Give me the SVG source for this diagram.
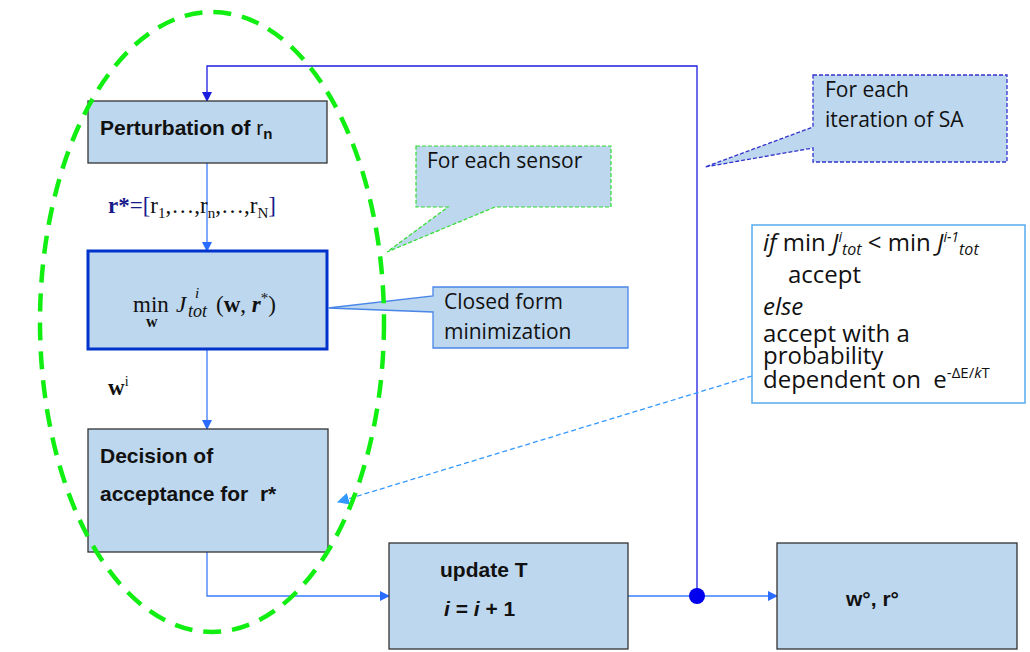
<svg xmlns="http://www.w3.org/2000/svg" width="1030" height="652" viewBox="0 0 1030 652">
<style>
.box{fill:#bdd7ee;stroke:#333;stroke-width:1.3}
.lbl{font-family:"Liberation Sans",Arial,sans-serif;font-weight:bold;font-size:21px;fill:#111}
.call{font-family:"Open Sans","Liberation Sans",sans-serif;font-size:21px;fill:#111}
.rule{font-family:"Open Sans","Liberation Sans",sans-serif;font-size:24px;fill:#111}
.math{font-family:"Liberation Serif","Times New Roman",serif;font-size:23px;fill:#111}
.cn{fill:none;stroke:#3a7cff;stroke-width:1.3}
.loop{fill:none;stroke:#1d1de0;stroke-width:1.3}
</style>
<defs>
<marker id="ah" markerWidth="10" markerHeight="10" refX="9" refY="5" orient="auto" markerUnits="userSpaceOnUse"><path d="M0,0 L10,5 L0,10 Z" fill="#2a6cff"/></marker>
<marker id="ahd" markerWidth="10" markerHeight="10" refX="9" refY="5" orient="auto" markerUnits="userSpaceOnUse"><path d="M0,0 L10,5 L0,10 Z" fill="#1d1de0"/></marker>
<marker id="ahl" markerWidth="12" markerHeight="12" refX="11" refY="6" orient="auto" markerUnits="userSpaceOnUse"><path d="M0,0 L12,6 L0,12 Z" fill="#3399ff"/></marker>
</defs>

<g id="connectors">
<line class="cn" x1="207" y1="163" x2="207" y2="251" marker-end="url(#ah)"/>
<line class="cn" x1="207" y1="349" x2="207" y2="429" marker-end="url(#ah)"/>
<polyline class="cn" points="207,552 207,596 389,596" marker-end="url(#ah)"/>
<line class="cn" x1="628" y1="596" x2="777" y2="596" marker-end="url(#ah)"/>
<polyline class="loop" points="697,596 697,66 207,66 207,101" marker-end="url(#ahd)"/>
<circle cx="697" cy="596" r="8" fill="#0000ee"/>
<line x1="752" y1="376" x2="338" y2="502" stroke="#3399ff" stroke-width="1.3" stroke-dasharray="5,3" marker-end="url(#ahl)"/>
</g>

<g id="node-perturbation">
<rect class="box" x="88" y="101" width="239" height="62"/>
<text class="lbl" x="100" y="135">Perturbation of <tspan font-weight="normal">r</tspan><tspan font-size="15" dy="4">n</tspan></text>
</g>

<g id="label-rstar">
<text class="math" x="108" y="213"><tspan font-weight="bold" fill="#1a1a8a">r*</tspan><tspan fill="#1a1a8a">=[</tspan>r<tspan font-size="15" dy="5">1</tspan><tspan dy="-5">,…,r</tspan><tspan font-size="15" dy="5">n</tspan><tspan dy="-5">,…,r</tspan><tspan font-size="15" dy="5">N</tspan><tspan dy="-5" fill="#1a1a8a">]</tspan></text>
</g>

<g id="node-min">
<rect x="88" y="251" width="239" height="98" fill="#bdd7ee" stroke="#0033cc" stroke-width="3"/>
<text class="math" x="133" y="312">min<tspan x="146" y="327" font-size="16" font-weight="bold">w</tspan><tspan x="176" y="312" font-style="italic">J</tspan><tspan x="195" y="298" font-style="italic" font-size="15">i</tspan><tspan x="188" y="317" font-style="italic" font-size="18">tot</tspan><tspan x="216" y="312">(</tspan><tspan font-weight="bold">w</tspan>, <tspan font-weight="bold" font-style="italic">r</tspan><tspan font-size="15" dy="-9">*</tspan><tspan dy="9">)</tspan></text>
</g>

<g id="label-wi">
<text class="math" x="108" y="395" font-weight="bold">w<tspan font-size="14" font-weight="normal" dy="-9">i</tspan></text>
</g>

<g id="node-decision">
<rect class="box" x="88" y="429" width="240" height="123"/>
<text class="lbl" x="100" y="463">Decision of</text>
<text class="lbl" x="100" y="501" xml:space="preserve">acceptance for  r*</text>
</g>

<g id="node-update">
<rect class="box" x="389" y="543" width="239" height="106"/>
<text class="lbl" x="440" y="577" font-size="22">update T</text>
<text class="lbl" x="444" y="616" font-size="22"><tspan font-style="italic">i</tspan> = <tspan font-style="italic">i</tspan> + 1</text>
</g>

<g id="node-result">
<rect class="box" x="777" y="543" width="240" height="106"/>
<text class="lbl" x="846" y="606" font-size="25">w°, r°</text>
</g>

<g id="callout-sensor">
<path d="M416,146 H611 V207 H495 L387,252 L448,207 H416 Z" fill="#bdd7ee" stroke="#33dd33" stroke-width="1.2" stroke-dasharray="4,2"/>
<text class="call" x="427" y="168">For each sensor</text>
</g>

<g id="callout-closed">
<path d="M433,287 H628 V348 H433 V312 L328,308 L433,296 Z" fill="#bdd7ee" stroke="#4a86e8" stroke-width="1.3"/>
<text class="call" x="444" y="309">Closed form</text>
<text class="call" x="444" y="339">minimization</text>
</g>

<g id="callout-sa">
<path d="M813,75 H1007 V162 H813 V148 L705,167 L813,127 Z" fill="#bdd7ee" stroke="#3333cc" stroke-width="1.3" stroke-dasharray="4,2"/>
<text class="call" x="825" y="97">For each</text>
<text class="call" x="825" y="127">iteration of SA</text>
</g>

<g id="node-rule">
<rect x="752" y="225" width="273" height="178" fill="#fff" stroke="#55aaee" stroke-width="1.5"/>
<text class="rule" x="763" y="251"><tspan font-style="italic">if</tspan> min <tspan font-style="italic">J</tspan><tspan font-style="italic" font-size="14" dy="-9">i</tspan><tspan font-style="italic" font-size="16" dy="13">tot</tspan><tspan dy="-4"> &lt; min </tspan><tspan font-style="italic">J</tspan><tspan font-style="italic" font-size="14" dy="-9">i-1</tspan><tspan font-style="italic" font-size="16" dy="13">tot</tspan></text>
<text class="rule" x="788" y="283">accept</text>
<text class="rule" x="763" y="315" font-style="italic">else</text>
<text class="rule" x="763" y="342">accept with a</text>
<text class="rule" x="763" y="364">probability</text>
<text class="rule" x="763" y="388" xml:space="preserve">dependent on  e<tspan font-size="15" dy="-10">-ΔE/<tspan font-style="italic">k</tspan>T</tspan></text>
</g>

<g id="ellipse">
<ellipse cx="212" cy="322" rx="172" ry="310" fill="none" stroke="#11ee11" stroke-width="4.5" stroke-dasharray="18,11"/>
</g>
</svg>
